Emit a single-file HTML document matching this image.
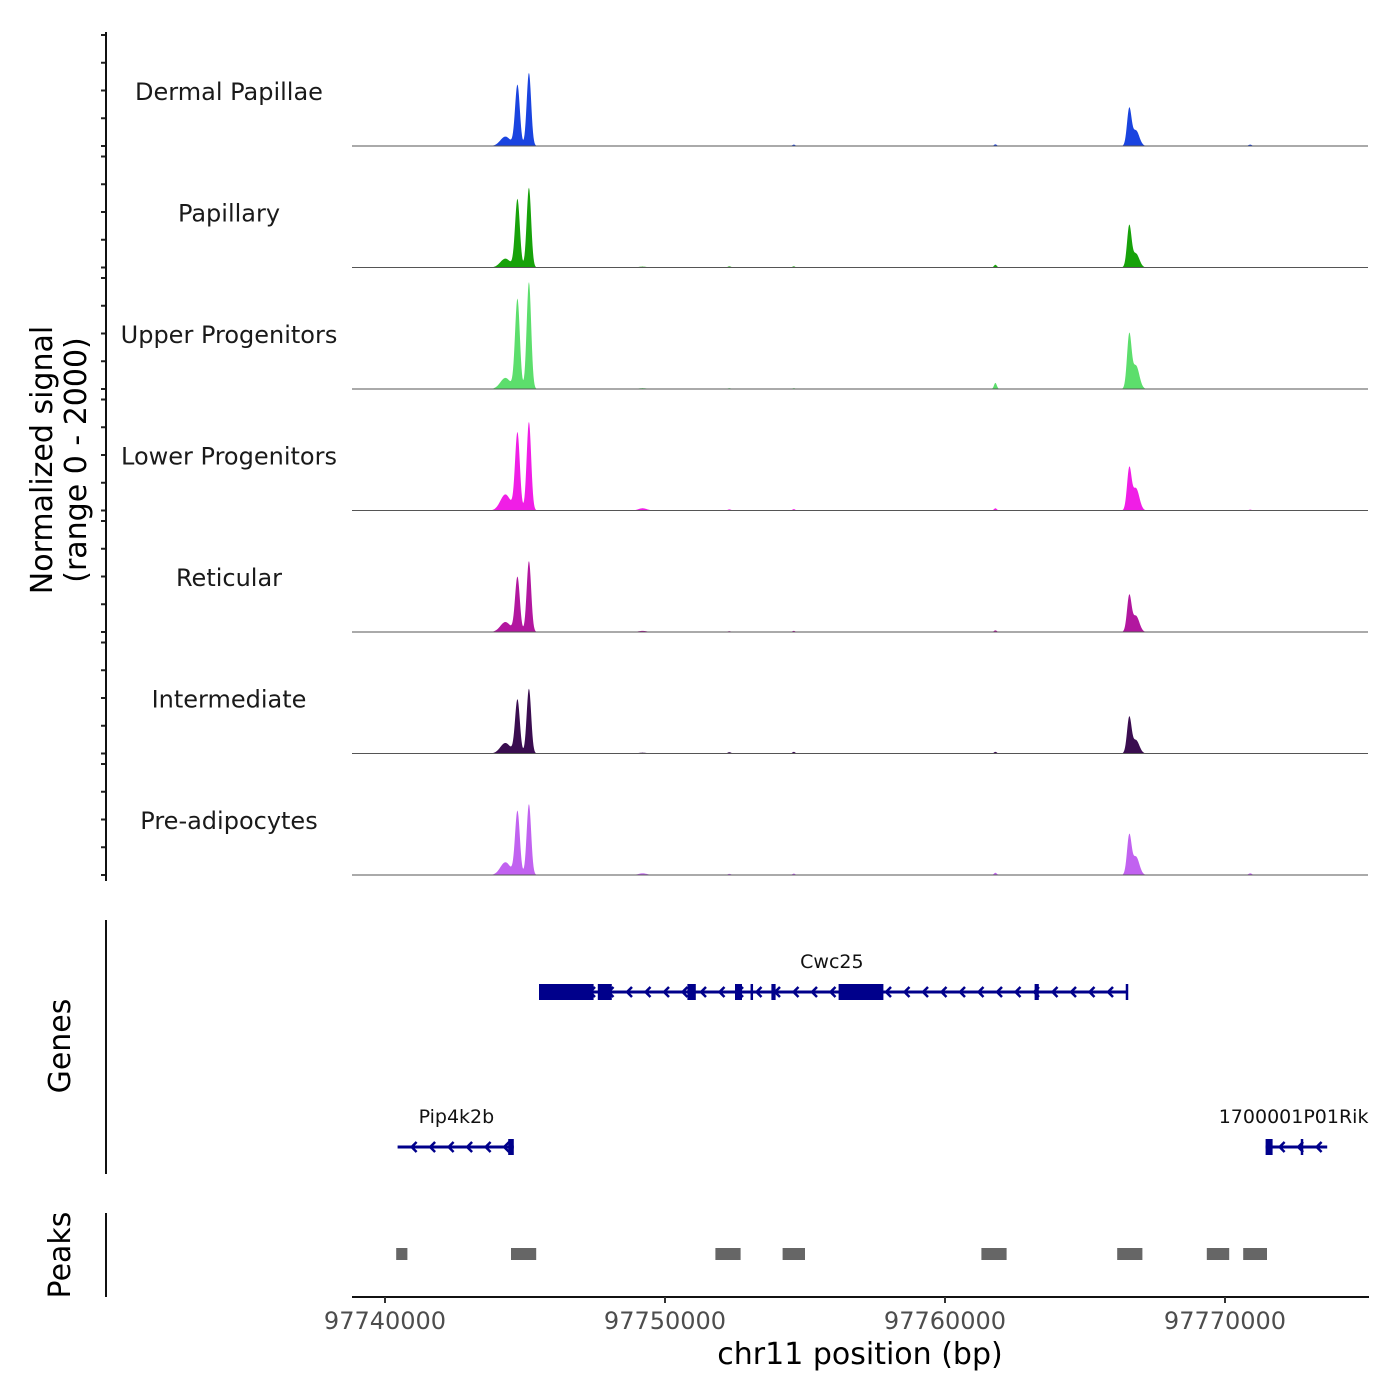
<!DOCTYPE html>
<html><head><meta charset="utf-8"><style>
body{margin:0;background:#fff}
svg{display:block;font-family:"DejaVu Sans","Liberation Sans",sans-serif}
</style></head><body>
<svg id="chart" width="1400" height="1400" viewBox="0 0 1400 1400">
<g id="tracks"></g>
<g id="genes"></g>
<g id="peaks"></g>
<g id="axes"></g>
</svg>
<script>
// ---- data ----
const trackNames = ["Dermal Papillae","Papillary","Upper Progenitors","Lower Progenitors","Reticular","Intermediate","Pre-adipocytes"];
const trackColors = ["#1a44e0","#17a20a","#5cde6c","#f01ee6","#b2179f","#3a0d50","#c162f0"];
// peak centers (bp) and widths (bp, sigma)
const peakCenters = [97744300, 97744730, 97745140, 97766580, 97766820, 97761800, 97754600, 97749200, 97752300, 97770900];
const peakWidths  = [180, 85, 80, 80, 120, 50, 50, 150, 60, 60];
// heights per track (signal units, range 0-2000)
const heightsDP  = [170, 1100, 1320, 660, 280, 30, 25, 10, 10, 25];
const heightsPap = [160, 1230, 1440, 740, 250, 50, 20, 15, 20, 10];
const heightsUp  = [200, 1620, 1930, 960, 420, 110, 15, 15, 15, 10];
const heightsLow = [290, 1400, 1600, 740, 400, 40, 25, 40, 20, 15];
const heightsRet = [180, 990, 1280, 640, 290, 30, 20, 20, 15, 10];
const heightsInt = [190, 970, 1170, 640, 240, 30, 30, 15, 25, 10];
const heightsPre = [230, 1150, 1280, 700, 330, 40, 25, 30, 20, 30];
const trackHeights = [heightsDP,heightsPap,heightsUp,heightsLow,heightsRet,heightsInt,heightsPre];
const xTicks = [97740000, 97750000, 97760000, 97770000];
const yTickValues = [0, 500, 1000, 1500, 2000];
const peakRegions = [[97740400,97740800],[97744500,97745400],[97751800,97752700],[97754200,97755000],[97761300,97762200],[97766150,97767050],[97769350,97770150],[97770650,97771500]];
const genes = [
 {name:"Cwc25", start:97745500, end:97766500, row:0, labelX:97755960,
  exons:[[97745500,97747450],[97747600,97748100],[97750800,97751100],[97752500,97752750],[97753800,97753950],[97756200,97757800],[97763200,97763350]],
  marks:[97753100,97766500]},
 {name:"Pip4k2b", start:97740450, end:97744600, row:1, labelX:97742550,
  exons:[[97744400,97744600]], marks:[]},
 {name:"1700001P01Rik", start:97771450, end:97773650, row:1, labelX:97772450,
  exons:[[97771450,97771700]], marks:[97772750]}
];
// ---- scales ----
const X0=97740000, PX0=385, PXPER=0.028;
function xs(bp){return PX0+(bp-X0)*PXPER;}
const LEFT=352, RIGHT=1368;
const baselines=[146,267.5,389,510.5,632,753.5,875];
function ys(v,b){return b - v/2000*111;}
const NS="http://www.w3.org/2000/svg";
function mk(tag,attrs,parent){const e=document.createElementNS(NS,tag);for(const k in attrs)e.setAttribute(k,attrs[k]);parent.appendChild(e);return e;}
const tracks=document.getElementById('tracks');
trackNames.forEach((nm,i)=>{
  const b=baselines[i], hs=trackHeights[i];
  let d=`M${LEFT},${b}`;
  for(let px=LEFT;px<=RIGHT;px+=0.5){
    const bp=X0+(px-PX0)/PXPER;
    let v=0;
    peakCenters.forEach((c,k)=>{const z=(bp-c)/peakWidths[k];v+=hs[k]*Math.exp(-0.5*z*z);});
    d+=`L${px.toFixed(1)},${ys(v,b).toFixed(2)}`;
  }
  d+=`L${RIGHT},${b}Z`;
  const p=mk('path',{d,fill:trackColors[i]},tracks);
  
  
  const l=mk('line',{x1:LEFT,x2:RIGHT,y1:b,y2:b,stroke:"#555",'stroke-width':1},tracks);
  
  
  const t=mk('text',{x:229,y:b-46,'text-anchor':'middle','font-size':24,fill:'#1a1a1a'},tracks);
  t.textContent=nm;
  
  
  yTickValues.forEach(v=>{
    const tk=mk('line',{x1:101,x2:106,y1:ys(v,b),y2:ys(v,b),stroke:'#222','stroke-width':2},tracks);
    
    
  });
});
// genes
const gg=document.getElementById('genes');
const gy=[992,1147];
genes.forEach(g=>{
  const y=gy[g.row], c="#00008b";
  const ln=mk('line',{x1:xs(g.start),x2:xs(g.end),y1:y,y2:y,stroke:c,'stroke-width':3},gg);
  
  
  const x1=xs(g.start),x2=xs(g.end);
  for(let x=x1+14;x<x2-6;x+=18.5){
    const ch=mk('path',{d:`M${x+5},${y-5}L${x},${y}L${x+5},${y+5}`,stroke:c,'stroke-width':2.5,fill:'none'},gg);
    
    
  }
  g.exons.forEach(e=>{
    const r=mk('rect',{x:xs(e[0]),y:y-8,width:Math.max(3,xs(e[1])-xs(e[0])),height:16,fill:c},gg);
    
    
  });
  g.marks.forEach(m=>{
    const r=mk('line',{x1:xs(m),x2:xs(m),y1:y-8,y2:y+8,stroke:c,'stroke-width':2.5},gg);
    
    
  });
  const t=mk('text',{x:xs(g.labelX),y:y-24,'text-anchor':'middle','font-size':19,fill:'#111'},gg);
  t.textContent=g.name;
  
  
});
// peaks
const pg=document.getElementById('peaks');
peakRegions.forEach(r=>{
  const e=mk('rect',{x:xs(r[0]),y:1248,width:xs(r[1])-xs(r[0]),height:12,fill:'#666'},pg);
  
  
});
// axes
const ax=document.getElementById('axes');
function line(a,name){const l=mk('line',Object.assign({stroke:'#111','stroke-width':2},a),ax);return l;}
line({x1:106,x2:106,y1:32,y2:881},'signal-y-axis');
line({x1:106,x2:106,y1:920,y2:1174},'genes-y-axis');
line({x1:106,x2:106,y1:1213,y2:1297},'peaks-y-axis');
line({x1:352,x2:1369,y1:1297,y2:1297},'x-axis-line');
xTicks.forEach(v=>{
  line({x1:xs(v),x2:xs(v),y1:1297,y2:1303,stroke:'#333'},'x-tick');
  const t=mk('text',{x:xs(v),y:1329,'text-anchor':'middle','font-size':24,fill:'#4d4d4d'},ax);
  t.textContent=String(v);
  
  
});
function txt(s,a,name){const t=mk('text',a,ax);t.textContent=s;}
txt("chr11 position (bp)",{x:860,y:1364,'text-anchor':'middle','font-size':30,fill:'#000'},'x-axis-title');
txt("Normalized signal",{x:0,y:0,transform:'translate(52,460) rotate(-90)','text-anchor':'middle','font-size':30,fill:'#000'},'y-axis-title');
txt("(range 0 - 2000)",{x:0,y:0,transform:'translate(86,460) rotate(-90)','text-anchor':'middle','font-size':30,fill:'#000'},'y-axis-subtitle');
txt("Genes",{x:0,y:0,transform:'translate(70,1046) rotate(-90)','text-anchor':'middle','font-size':30,fill:'#000'},'genes-axis-title');
txt("Peaks",{x:0,y:0,transform:'translate(70,1255) rotate(-90)','text-anchor':'middle','font-size':30,fill:'#000'},'peaks-axis-title');
</script>
</body></html>
